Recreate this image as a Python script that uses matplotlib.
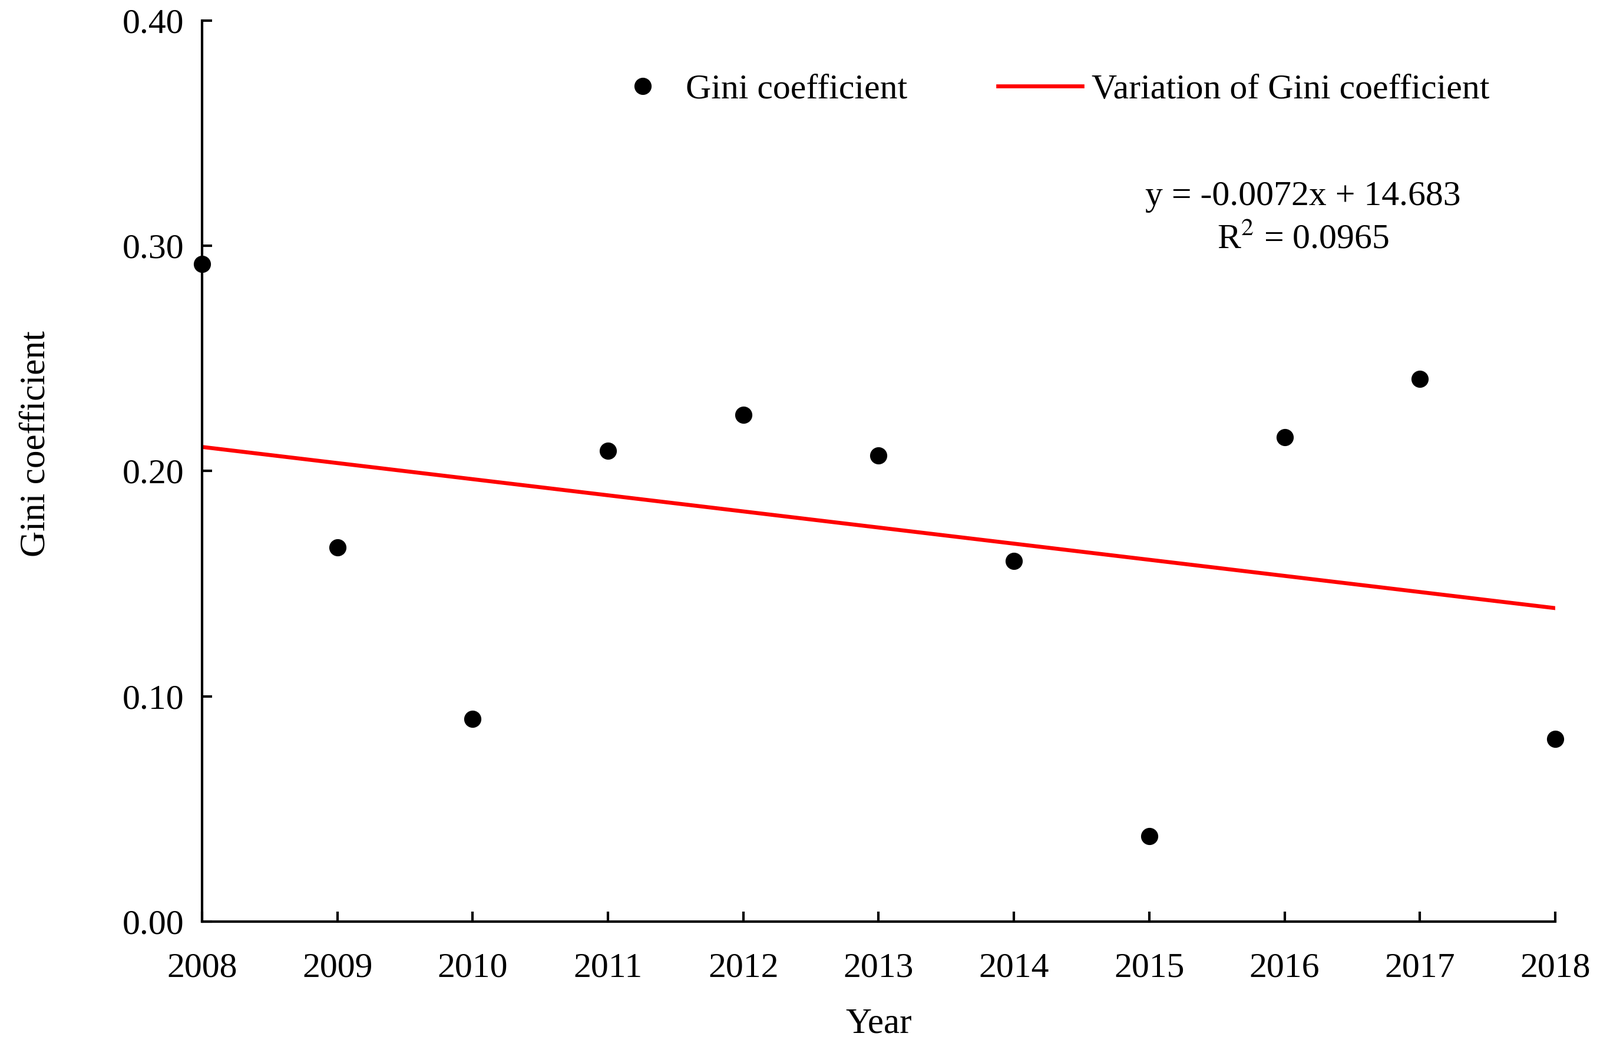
import numpy as np
import matplotlib.pyplot as plt
from matplotlib.ticker import FormatStrFormatter

plt.rcParams['font.family'] = ['Liberation Serif', 'DejaVu Serif']
plt.rcParams['mathtext.fontset'] = 'stix'

years = [2008, 2009, 2010, 2011, 2012, 2013, 2014, 2015, 2016, 2017, 2018]
gini = [0.292, 0.166, 0.090, 0.209, 0.225, 0.207, 0.160, 0.038, 0.215, 0.241, 0.081]

# linear trend, as in the original chart
k, b = np.polyfit(years, gini, 1)
trend = [k * x + b for x in years]

fs = 43

fig = plt.figure(figsize=(27.16, 17.87), dpi=100)
ax = fig.add_axes([0.1263, 0.1248, 0.9720 - 0.1263, 0.9806 - 0.1248])

ln, = ax.plot(years, trend, color='#ff0000', lw=4.8, label='Variation of Gini coefficient', zorder=2)
pts, = ax.plot(years, gini, 'o', color='black', ms=20, ls='none', label='Gini coefficient',
               clip_on=False, zorder=3)

ax.set_xlim(2008, 2018)
ax.set_ylim(0, 0.40)
ax.set_xticks(years)
ax.set_yticks([0.0, 0.1, 0.2, 0.3, 0.4])
ax.yaxis.set_major_formatter(FormatStrFormatter('%.2f'))

for s in ['top', 'right']:
    ax.spines[s].set_visible(False)
for s in ['left', 'bottom']:
    ax.spines[s].set_linewidth(3)

ax.tick_params(axis='both', direction='in', length=12, width=3, labelsize=fs)
ax.tick_params(axis='x', pad=38)
ax.tick_params(axis='y', pad=22)

ax.set_xlabel('Year', fontsize=fs + 1, labelpad=28)
ax.set_ylabel('Gini coefficient', fontsize=fs + 1)
ax.yaxis.set_label_coords(-0.111, 0.53)

# two separate legend boxes so the spacing can follow the original
fig.legend([pts], ['Gini coefficient'], frameon=False, fontsize=fs,
           loc='center left', bbox_to_anchor=(0.3798, 0.9148), borderpad=0,
           handlelength=1.0, handletextpad=0.72)
fig.legend([ln], ['Variation of Gini coefficient'], frameon=False, fontsize=fs,
           loc='center left', bbox_to_anchor=(0.6129, 0.9148), borderpad=0,
           handlelength=2.38, handletextpad=0.28)

fig.text(0.8144, 0.813, 'y = -0.0072x + 14.683', ha='center', va='center', fontsize=fs)
fig.text(0.8144, 0.773, r'R$^2$ = 0.0965', ha='center', va='center', fontsize=fs)

fig.savefig('out.png', dpi=100)
